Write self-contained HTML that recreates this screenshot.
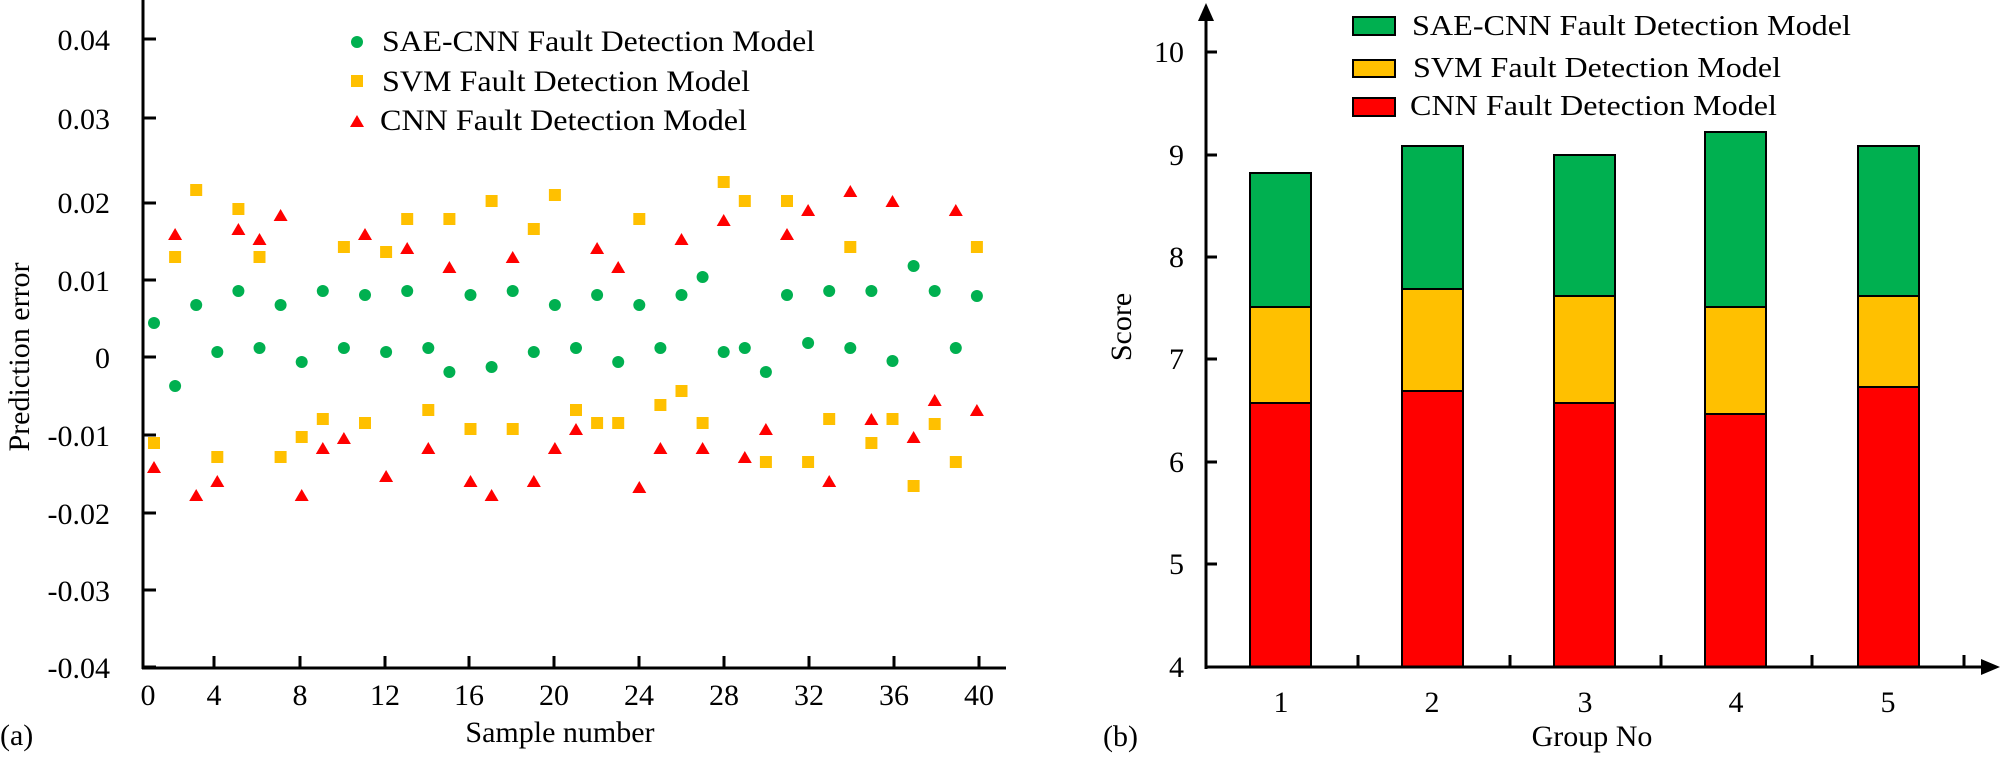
<!DOCTYPE html>
<html><head><meta charset="utf-8"><style>
html,body{margin:0;padding:0;background:#fff;}
svg{display:block;}
text{font-family:"Liberation Serif",serif;fill:#000;}
</style></head><body>
<svg id="s" width="2000" height="758" viewBox="0 0 2000 758" xmlns="http://www.w3.org/2000/svg">
<rect width="2000" height="758" fill="#fff"/>
<!-- Left plot axes -->
<g stroke="#000" stroke-width="3" fill="none">
<line x1="143" y1="0" x2="143" y2="669"/>
<line x1="142" y1="668" x2="1006" y2="668"/>
</g>
<g id="lt" stroke="#000" stroke-width="3"></g>
<g font-size="30" text-anchor="end">
<text x="110" y="50">0.04</text>
<text x="110" y="129">0.03</text>
<text x="110" y="213">0.02</text>
<text x="110" y="291">0.01</text>
<text x="110" y="368">0</text>
<text x="110" y="446">-0.01</text>
<text x="110" y="524">-0.02</text>
<text x="110" y="601">-0.03</text>
<text x="110" y="678">-0.04</text>
</g>
<g font-size="30" text-anchor="middle">
<text x="148" y="705">0</text>
<text x="214" y="705">4</text>
<text x="300" y="705">8</text>
<text x="385" y="705">12</text>
<text x="469" y="705">16</text>
<text x="554" y="705">20</text>
<text x="639" y="705">24</text>
<text x="724" y="705">28</text>
<text x="809" y="705">32</text>
<text x="894" y="705">36</text>
<text x="979" y="705">40</text>
<text x="560" y="742">Sample number</text>
<text transform="translate(29,357) rotate(-90)">Prediction error</text>
</g>
<text x="0" y="745" font-size="30">(a)</text>
<g id="pts"></g>
<!-- left legend -->
<circle cx="357" cy="42" r="6" fill="#00b050"/>
<rect x="351" y="75" width="12" height="12" fill="#ffc000"/>
<polygon points="350,127 364,127 357,115" fill="#ff0000"/>
<g font-size="30">
<text x="382" y="51" textLength="433" lengthAdjust="spacingAndGlyphs">SAE-CNN Fault Detection Model</text>
<text x="382" y="91" textLength="368" lengthAdjust="spacingAndGlyphs">SVM Fault Detection Model</text>
<text x="380" y="130" textLength="367" lengthAdjust="spacingAndGlyphs">CNN Fault Detection Model</text>
</g>

<!-- Right plot -->
<g id="bars"></g>
<g stroke="#000" stroke-width="3" fill="none">
<line x1="1206" y1="18" x2="1206" y2="669"/>
<line x1="1205" y1="667" x2="1984" y2="667"/>
<line x1="1206" y1="155" x2="1217" y2="155"/>
<line x1="1206" y1="52" x2="1217" y2="52"/>
<line x1="1206" y1="257" x2="1217" y2="257"/>
<line x1="1206" y1="359" x2="1217" y2="359"/>
<line x1="1206" y1="462" x2="1217" y2="462"/>
<line x1="1206" y1="564" x2="1217" y2="564"/>
<line x1="1358" y1="667" x2="1358" y2="655"/>
<line x1="1510" y1="667" x2="1510" y2="655"/>
<line x1="1661" y1="667" x2="1661" y2="655"/>
<line x1="1812" y1="667" x2="1812" y2="655"/>
<line x1="1964" y1="667" x2="1964" y2="655"/>
</g>
<polygon points="1198,21 1214,21 1206,3" fill="#000"/>
<polygon points="1981,659 1981,675 2000,667" fill="#000"/>
<g font-size="30" text-anchor="end">
<text x="1184" y="62">10</text>
<text x="1184" y="165">9</text>
<text x="1184" y="267">8</text>
<text x="1184" y="369">7</text>
<text x="1184" y="472">6</text>
<text x="1184" y="574">5</text>
<text x="1184" y="677">4</text>
</g>
<g font-size="30" text-anchor="middle">
<text x="1281" y="712">1</text>
<text x="1432" y="712">2</text>
<text x="1585" y="712">3</text>
<text x="1736" y="712">4</text>
<text x="1888" y="712">5</text>
<text x="1592" y="746">Group No</text>
<text transform="translate(1131,327) rotate(-90)">Score</text>
</g>
<text x="1103" y="746" font-size="30">(b)</text>
<!-- right legend -->
<g stroke="#000" stroke-width="2">
<rect x="1353" y="17" width="42" height="18" fill="#00b050"/>
<rect x="1353" y="60" width="42" height="17" fill="#ffc000"/>
<rect x="1353" y="98" width="42" height="18" fill="#ff0000"/>
</g>
<g font-size="29">
<text x="1412" y="35" textLength="439" lengthAdjust="spacingAndGlyphs">SAE-CNN Fault Detection Model</text>
<text x="1413" y="77" textLength="368" lengthAdjust="spacingAndGlyphs">SVM Fault Detection Model</text>
<text x="1410" y="115" textLength="367" lengthAdjust="spacingAndGlyphs">CNN Fault Detection Model</text>
</g>
</svg>
<script>
var NS="http://www.w3.org/2000/svg";
function el(p,t,a){var e=document.createElementNS(NS,t);for(var k in a)e.setAttribute(k,a[k]);p.appendChild(e);return e;}
var lt=document.getElementById("lt");
[39,118,203,280,357,435,513,590,667].forEach(function(y){el(lt,"line",{x1:143,y1:y,x2:156,y2:y});});
[214,300,385,469,554,639,724,809,894,979].forEach(function(x){el(lt,"line",{x1:x,y1:668,x2:x,y2:656});});
var D=[[323,443,467],[386,257,234],[305,190,495],[352,457,481],[291,209,229],[348,257,239],[305,457,215],[362,437,495],[291,419,448],[348,247,438],
[295,423,234],[352,252,476],[291,219,248],[348,410,448],[372,219,267],[295,429,481],[367,201,495],[291,429,257],[352,229,481],[305,195,448],
[348,410,429],[295,423,248],[362,423,267],[305,219,487],[348,405,448],[295,391,239],[277,423,448],[352,182,220],[348,201,457],[372,462,429],
[295,201,234],[343,462,210],[291,419,481],[348,247,191],[291,443,419],[361,419,201],[266,486,437],[291,424,400],[348,462,210],[296,247,410]];
var g=document.getElementById("pts");
D.forEach(function(d,k){var x=154+21.1*k;
el(g,"circle",{cx:x,cy:d[0],r:6,fill:"#00b050"});
el(g,"rect",{x:x-6,y:d[1]-6,width:12,height:12,fill:"#ffc000"});
el(g,"polygon",{points:(x-7)+","+(d[2]+6)+" "+(x+7)+","+(d[2]+6)+" "+x+","+(d[2]-6),fill:"#ff0000"});});
var b=document.getElementById("bars");
var B=[[1250,173,307,403],[1402,146,289,391],[1554,155,296,403],[1705,132,307,414],[1858,146,296,387]];
B.forEach(function(d){var w=61;
el(b,"rect",{x:d[0],y:d[1],width:w,height:d[2]-d[1],fill:"#00b050",stroke:"#000","stroke-width":2});
el(b,"rect",{x:d[0],y:d[2],width:w,height:d[3]-d[2],fill:"#ffc000",stroke:"#000","stroke-width":2});
el(b,"rect",{x:d[0],y:d[3],width:w,height:667-d[3],fill:"#ff0000",stroke:"#000","stroke-width":2});});
</script>
</body></html>
